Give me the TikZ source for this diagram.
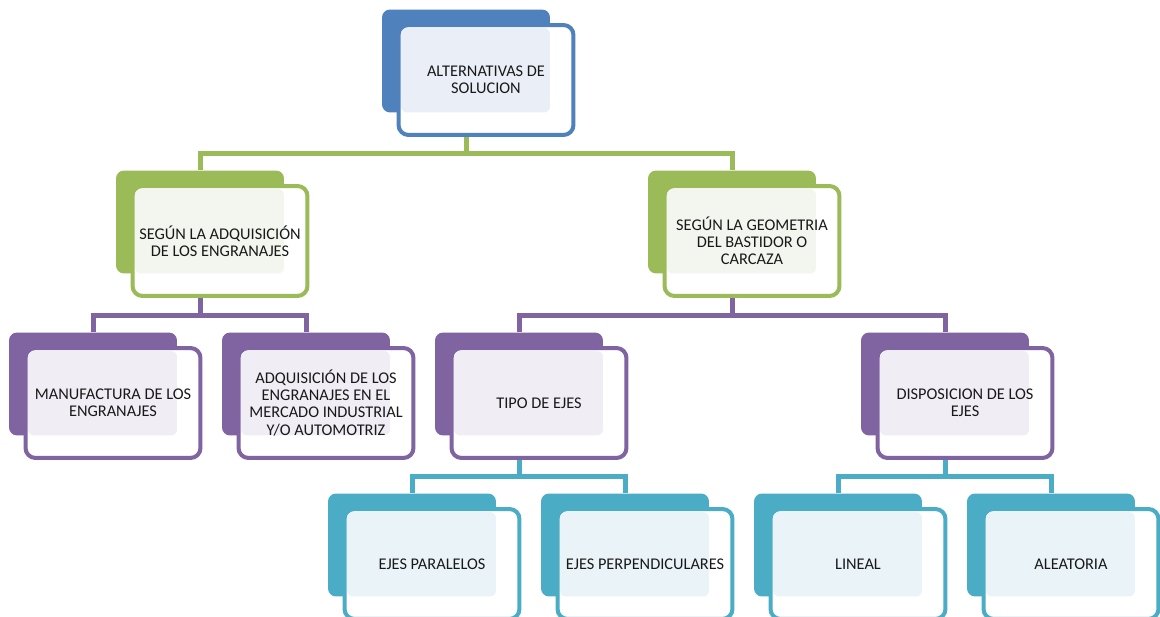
\documentclass[tikz,border=0pt]{standalone}
\usepackage{fontspec}
\setmainfont{Carlito}
\usetikzlibrary{positioning,calc,backgrounds}
\definecolor{alBlue}{RGB}{79,129,189}
\definecolor{alBlueLight}{RGB}{234,239,247}
\definecolor{alGreen}{RGB}{155,187,89}
\definecolor{alGreenLight}{RGB}{243,246,238}
\definecolor{alPurple}{RGB}{128,100,162}
\definecolor{alPurpleLight}{RGB}{240,237,244}
\definecolor{alTeal}{RGB}{75,172,198}
\definecolor{alTealLight}{RGB}{234,244,248}
\tikzset{
    base/.style={font=\fontsize{9.3}{9.7}\selectfont, align=center},
    backbox/.style={rectangle, rounded corners=1.6mm, fill=#1, inner sep=0pt,
                    minimum width=3.36cm, minimum height=2.06cm},
    frontbox/.style={rectangle, rounded corners=2mm, draw=#1, line width=0.08cm,
                     fill=white, inner sep=0pt, minimum width=3.5cm, minimum height=2.2cm},
    tintbox/.style={rectangle, rounded corners=1.2mm, fill=#1Light, inner sep=0pt,
                    minimum width=2.98cm, minimum height=1.69cm},
    boxtext/.style={base, text=black!90, inner sep=0pt},
    branch/.style={draw=#1, line width=0.1cm}
}
% one entry of the chart: name, colour, centre, text
\newcommand{\altbox}[4]{%
  \node[backbox=#2] (#1-b) at ($#3+(-20,-19)$) {};
  \node[frontbox=#2] (#1) at #3 {};
  \node[tintbox=#2] (#1-l) at ($#3+(-10.5,-9.75)$) {};
  \node[boxtext] (#1-t) at #3 {#4};
}

\begin{document}
\begin{tikzpicture}[x=0.02cm, y=-0.02cm]
  \clip (0,0) rectangle (1160,617);

  % Top
  \altbox{root}{alBlue}{(486,80)}{ALTERNATIVAS DE\\SOLUCION}

  % Second level
  \altbox{adq}{alGreen}{(220,241)}{SEGÚN LA ADQUISICIÓN\\DE LOS ENGRANAJES}
  \altbox{geo}{alGreen}{(752,241)}{SEGÚN LA GEOMETRIA\\DEL BASTIDOR O\\CARCAZA}

  % Third level
  \altbox{manu}{alPurple}{(113,403)}{MANUFACTURA DE LOS\\ENGRANAJES}
  \altbox{merc}{alPurple}{(326,403)}{ADQUISICIÓN DE LOS\\ENGRANAJES EN EL\\MERCADO INDUSTRIAL\\Y/O AUTOMOTRIZ}
  \altbox{tipo}{alPurple}{(539,403)}{TIPO DE EJES}
  \altbox{disp}{alPurple}{(965,403)}{DISPOSICION DE LOS\\EJES}

  % Fourth level
  \altbox{para}{alTeal}{(432,564)}{EJES PARALELOS}
  \altbox{perp}{alTeal}{(645,564)}{EJES PERPENDICULARES}
  \altbox{lin}{alTeal}{(858,564)}{LINEAL}
  \altbox{alea}{alTeal}{(1071,564)}{ALEATORIA}

  % Connectors
  \begin{scope}[on background layer]
    \coordinate (bar1) at ($(root.south)!0.5!(adq-b.north)$);
    \coordinate (bar2) at ($(adq.south)!0.5!(manu-b.north)$);
    \coordinate (bar3) at ($(tipo.south)!0.5!(para-b.north)$);
    \draw[branch=alGreen] (root-b.center) -- (root-b.center |- bar1) -| (adq-b.north);
    \draw[branch=alGreen] (root-b.center |- bar1) -| (geo-b.north);
    \draw[branch=alPurple] (adq-b.center) -- (adq-b.center |- bar2) -| (manu-b.north);
    \draw[branch=alPurple] (adq-b.center |- bar2) -| (merc-b.north);
    \draw[branch=alPurple] (geo-b.center) -- (geo-b.center |- bar2) -| (tipo-b.north);
    \draw[branch=alPurple] (geo-b.center |- bar2) -| (disp-b.north);
    \draw[branch=alTeal] (tipo-b.center) -- (tipo-b.center |- bar3) -| (para-b.north);
    \draw[branch=alTeal] (tipo-b.center |- bar3) -| (perp-b.north);
    \draw[branch=alTeal] (disp-b.center) -- (disp-b.center |- bar3) -| (lin-b.north);
    \draw[branch=alTeal] (disp-b.center |- bar3) -| (alea-b.north);
  \end{scope}
\end{tikzpicture}
\end{document}
